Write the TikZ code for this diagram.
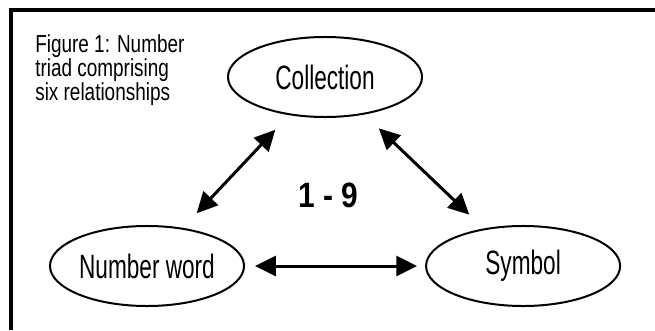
\documentclass[tikz,border=0pt]{standalone}
\usepackage{fontspec}
\setmainfont{Liberation Sans}
\newfontfamily\narrowfont[FakeStretch=0.67]{Liberation Sans}
\newfontfamily\notefont[FakeStretch=0.77]{Liberation Sans}
\newfontfamily\rangefont[FakeStretch=0.85]{Liberation Sans}
\usetikzlibrary{shapes.geometric,arrows.meta,positioning}

\begin{document}
\begin{tikzpicture}[x=0.025cm,y=0.025cm,>={Triangle[length=5.2mm,width=5mm]},
                every node/.style={inner sep=0pt},
                item/.style={draw, ellipse, line width=0.05cm, minimum width=4.85cm, minimum height=2cm, font=\narrowfont\fontsize{24}{24}\selectfont},
                link/.style={<->, line width=0.075cm}
                ]
                \useasboundingbox (0,0) rectangle (655,330);
                % frame
                \draw[line width=0.1cm] (11,0) -- (11,320) -- (655,320);
                \node[anchor=north west, align=left, font=\notefont\fontsize{17.5}{16}\selectfont] (note) at (35,296) {Figure 1: Number\\triad comprising\\six relationships};
                % the three corners of the triad
                \node[item] (colln) at (325,253) {Collection};
                \node[item] (numw) at (147,64) {Number word};
                \node[item, right=4.5cm of numw] (symb) {Symbol};
                \node[font=\rangefont\bfseries\fontsize{25}{25}\selectfont] (range) at (328,135) {1 - 9};
                \draw[link, shorten <=0.5cm, shorten >=0.5cm] (numw) -- (colln);
                \draw[link, shorten <=0.5cm, shorten >=0.5cm] (colln) -- (symb);
                \draw[link, shorten <=0.25cm, shorten >=0.2cm] (numw) -- (symb);
        \end{tikzpicture}
\end{document}
